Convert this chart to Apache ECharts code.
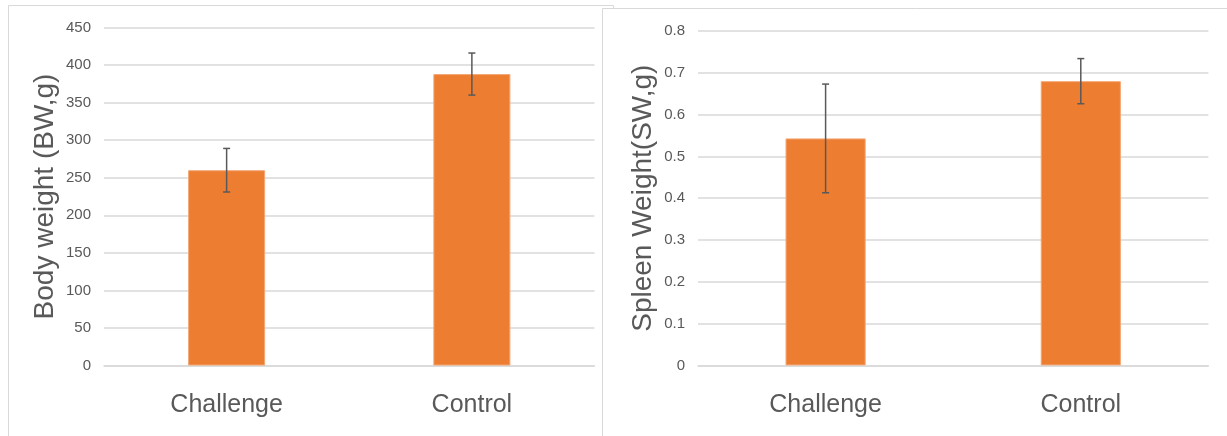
<!DOCTYPE html>
<html>
<head>
<meta charset="utf-8">
<script src="https://cdn.jsdelivr.net/npm/echarts@6/dist/echarts.min.js"></script>
<style>
html,body{margin:0;padding:0;background:#fff;}
#chart{width:1227px;height:436px;}
</style>
</head>
<body>
<div id="chart"></div>
<script>
// ---- data ----
const categories = ['Challenge', 'Control'];
const bodyWeight = [260, 388];
const bodyWeightErr = [29, 28];
const spleenWeight = [0.543, 0.68];
const spleenWeightErr = [0.13, 0.054];
const bodyTitle = 'Body weight (BW,g)';
const spleenTitle = 'Spleen Weight(SW,g)';

// ---- styles ----
const ORANGE = '#ED7D31';
const TXT = '#595959';
const GRID = '#d9d9d9';
const FONT = '"Liberation Sans", Arial, sans-serif';

function errData(vals, errs) {
  return vals.map((v, i) => [i, v - errs[i], v + errs[i]]);
}
function errRender(params, api) {
  const x = api.value(0);
  const lo = api.coord([x, api.value(1)]);
  const hi = api.coord([x, api.value(2)]);
  const cap = 3.5;
  const style = { stroke: TXT, lineWidth: 1.5, fill: null };
  return {
    type: 'group',
    children: [
      { type: 'line', shape: { x1: lo[0], y1: lo[1], x2: hi[0], y2: hi[1] }, style },
      { type: 'line', shape: { x1: hi[0] - cap, y1: hi[1], x2: hi[0] + cap, y2: hi[1] }, style },
      { type: 'line', shape: { x1: lo[0] - cap, y1: lo[1], x2: lo[0] + cap, y2: lo[1] }, style }
    ]
  };
}
function xAx(gi) {
  return {
    type: 'category', gridIndex: gi, data: categories,
    axisLine: { show: true, lineStyle: { color: GRID, width: 1.5 } },
    axisTick: { show: false },
    axisLabel: { color: TXT, fontSize: 25, fontFamily: FONT, margin: 27 }
  };
}
function yAx(gi, max, interval, name, gap, dec) {
  return {
    type: 'value', gridIndex: gi, min: 0, max: max, interval: interval,
    name: name, nameLocation: 'middle', nameGap: gap, nameRotate: 90,
    nameTextStyle: { color: TXT, fontSize: 28, fontFamily: FONT },
    axisLine: { show: false }, axisTick: { show: false },
    axisLabel: { color: TXT, fontSize: 15, fontFamily: FONT, margin: 13,
      formatter: v => dec ? (+v.toFixed(dec)).toString() : String(v) },
    splitLine: { lineStyle: { color: GRID, width: 1.5 } }
  };
}

const chart = echarts.init(document.getElementById('chart'), null, { renderer: 'canvas' });
chart.setOption({
  animation: false,
  backgroundColor: '#fff',
  graphic: [
    { type: 'rect', z: -10, shape: { x: 8.5, y: 5.5, width: 605, height: 440 },
      style: { fill: '#fff', stroke: GRID, lineWidth: 1 } },
    { type: 'rect', z: -9, shape: { x: 602.5, y: 8.5, width: 640, height: 440 },
      style: { fill: '#fff', stroke: GRID, lineWidth: 1 } }
  ],
  grid: [
    { left: 104, top: 27.5, width: 490.5, height: 338 },
    { left: 698, top: 31, width: 510.4, height: 334.4 }
  ],
  xAxis: [xAx(0), xAx(1)],
  yAxis: [
    yAx(0, 450, 50, bodyTitle, 45, 0),
    yAx(1, 0.8, 0.1, spleenTitle, 41, 1)
  ],
  series: [
    { type: 'bar', xAxisIndex: 0, yAxisIndex: 0, data: bodyWeight, barWidth: '31.4%',
      itemStyle: { color: ORANGE, borderColor: '#f3a673', borderWidth: 1 } },
    { type: 'custom', xAxisIndex: 0, yAxisIndex: 0, data: errData(bodyWeight, bodyWeightErr),
      renderItem: errRender, z: 5 },
    { type: 'bar', xAxisIndex: 1, yAxisIndex: 1, data: spleenWeight, barWidth: '31.4%',
      itemStyle: { color: ORANGE, borderColor: '#f3a673', borderWidth: 1 } },
    { type: 'custom', xAxisIndex: 1, yAxisIndex: 1, data: errData(spleenWeight, spleenWeightErr),
      renderItem: errRender, z: 5 }
  ]
});
</script>
</body>
</html>
